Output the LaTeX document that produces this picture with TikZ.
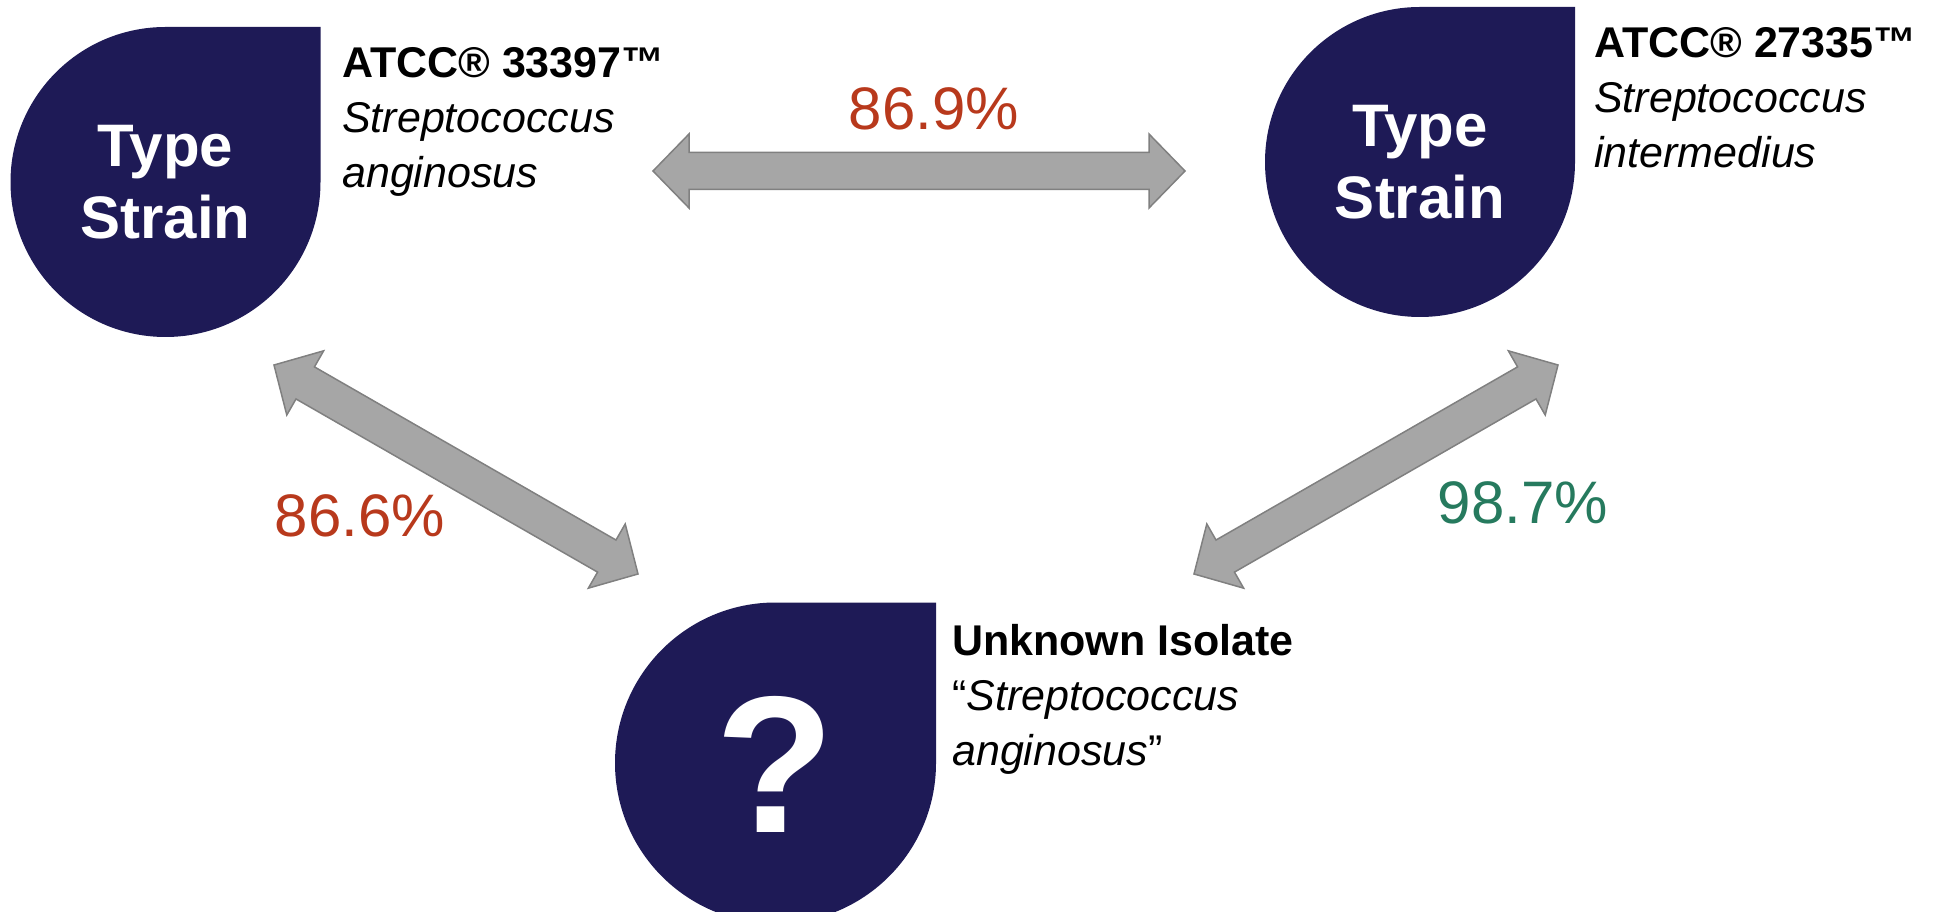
\documentclass[tikz,border=0pt]{standalone}
\usepackage{fontspec}
\setmainfont{Liberation Sans}
\usetikzlibrary{calc}
\definecolor{dropblue}{RGB}{30,26,86}
\definecolor{arrowgray}{RGB}{166,166,166}
\definecolor{arrowedge}{RGB}{128,128,128}
\definecolor{simred}{RGB}{184,57,28}
\definecolor{simgreen}{RGB}{38,122,94}
\tikzset{
  droptext/.style={text=white,font=\bfseries\fontsize{60}{72}\selectfont,align=center,inner sep=0pt},
  strainlabel/.style={anchor=north west,align=left,inner sep=0pt,font=\fontsize{43}{55}\selectfont},
  simlabel/.style={font=\fontsize{60}{72}\selectfont,inner sep=0pt},
  simarrow/.style={fill=arrowgray,draw=arrowedge,line width=1.5pt,line join=miter},
}
%% drop: circle with a square top right corner
\newcommand{\dropshape}[2]{%
  \fill[dropblue] (#1) ++(#2,0) -- ++(0,#2) -- ++(-#2,0) arc[start angle=90,end angle=360,radius=#2] -- cycle;}
%% block arrow with two heads
\newcommand{\simarrowpath}[2]{%
  \draw[simarrow] (#1) -- ($(#1)!36pt!(#2)!37pt!90:(#2)$) -- ($(#1)!36pt!(#2)!18.5pt!90:(#2)$)
    -- ($(#2)!36pt!(#1)!18.5pt!-90:(#1)$) -- ($(#2)!36pt!(#1)!37pt!-90:(#1)$) -- (#2)
    -- ($(#2)!36pt!(#1)!37pt!90:(#1)$) -- ($(#2)!36pt!(#1)!18.5pt!90:(#1)$)
    -- ($(#1)!36pt!(#2)!18.5pt!-90:(#2)$) -- ($(#1)!36pt!(#2)!37pt!-90:(#2)$) -- cycle;}
\begin{document}
\begin{tikzpicture}[x=1pt,y=1pt]
  \useasboundingbox (0,0) rectangle (1940,911);
  \clip (0,0) rectangle (1940,911);
  %% drops
  \dropshape{165.5,729}{155}
  \dropshape{1420,749}{155}
  \dropshape{775.5,148}{160.5}
  \node[droptext] (strainA) at (165.5,729) {Type\\Strain};
  \node[droptext] (strainB) at (1420,749) {Type\\Strain};
  \node[droptext,font=\bfseries\fontsize{195}{200}\selectfont] (isolate) at (775.5,146.5) {?};
  %% labels
  \node[strainlabel] (labelA) at (342,864) {\textbf{ATCC® 33397™}\\\textit{Streptococcus}\\\textit{anginosus}};
  \node[strainlabel] (labelB) at (1594,884) {\textbf{ATCC® 27335™}\\\textit{Streptococcus}\\\textit{intermedius}};
  \node[strainlabel] (labelU) at (952,287) {\textbf{Unknown Isolate}\\“\textit{Streptococcus}\\\textit{anginosus}”};
  %% arrows
  \coordinate (arrAB1) at (653,740);
  \coordinate (arrAB2) at (1185,740);
  \coordinate (arrAU1) at (274,546);
  \coordinate (arrAU2) at (638,337);
  \coordinate (arrBU1) at (1194,337);
  \coordinate (arrBU2) at (1558,546);
  \simarrowpath{arrAB1}{arrAB2}
  \simarrowpath{arrAU1}{arrAU2}
  \simarrowpath{arrBU1}{arrBU2}
  %% similarity
  \node[simlabel,text=simred] (simAB) at (934,802.5) {86.9\%};
  \node[simlabel,text=simred] (simAU) at (360,395) {86.6\%};
  \node[simlabel,text=simgreen] (simBU) at (1523,408) {98.7\%};
\end{tikzpicture}
\end{document}
